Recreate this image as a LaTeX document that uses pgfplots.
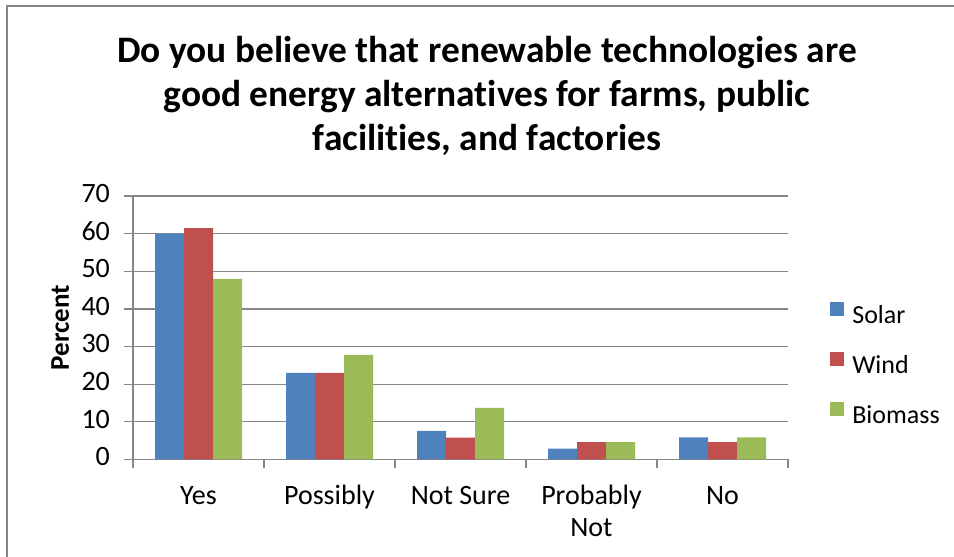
\documentclass[border=0pt]{standalone}
\usepackage{pgfplots}
\pgfplotsset{compat=1.18}
\usepackage{fontspec}
\setmainfont{Carlito}[Ligatures={NoCommon,NoContextual}]

\definecolor{solar}{HTML}{4F81BD}
\definecolor{wind}{HTML}{C0504D}
\definecolor{biomass}{HTML}{9BBB59}
\definecolor{axisgray}{HTML}{868686}

\begin{document}
\begin{tikzpicture}
\path[use as bounding box] (0pt,0pt) rectangle (477pt,278.5pt);

% chart frame (top and left edges)
\draw[axisgray, line width=1pt] (3.5pt,-5pt) -- (3.5pt,275.5pt) -- (485pt,275.5pt);

% title
\begin{scope}[every node/.style={anchor=base, inner sep=0pt,
    font=\fontsize{18.7}{22}\selectfont\bfseries}]
  \node at (243.5pt,247.4pt) {Do you believe that renewable technologies are};
  \node at (243.5pt,225.2pt) {good energy alternatives for farms, public};
  \node at (243.5pt,203.0pt) {facilities, and factories};
\end{scope}

\begin{axis}[
  at={(66.5pt,48.75pt)}, anchor=south west,
  scale only axis,
  width=327.5pt, height=131.75pt,
  ybar=0pt, bar width=14.5pt,
  xmin=-0.5, xmax=4.5,
  ymin=0, ymax=70,
  ytick={0,10,...,70},
  xtick={-0.5,0.5,1.5,2.5,3.5,4.5},
  x tick label as interval,
  xticklabels={Yes,Possibly,Not Sure,{Probably\\Not},No},
  typeset ticklabels with strut,
  xticklabel style={align=center, yshift=-3.25pt,
    font=\fontsize{14}{16}\selectfont},
  yticklabel style={xshift=-3.5pt, font=\fontsize{14}{16}\selectfont},
  /pgf/number format/assume math mode=true,
  tick align=outside,
  major tick length=4.5pt,
  tick style={axisgray, line width=0.6pt},
  axis x line*=bottom, axis y line*=left,
  axis line style={axisgray, line width=0.6pt, -},
  ymajorgrids,
  grid style={axisgray, line width=0.6pt},
  ylabel={Percent},
  ylabel style={at={(axis description cs:-0.111,0.5)}, anchor=center,
    font=\fontsize{13.5}{16}\selectfont\bfseries},
  legend style={at={(1.064,0.355)}, anchor=west, draw=none, fill=none,
    inner sep=0pt, row sep=11.5pt, column sep=4pt,
    nodes={inner sep=0pt, anchor=west, text height=9pt, text depth=3pt,
      font=\fontsize{13}{15}\selectfont}},
  legend cell align=left,
  legend image code/.code={\fill[#1] (0pt,0.5pt) rectangle (7pt,7.5pt);},
]
\addplot[fill=solar, draw=none] coordinates {(0,60) (1,23) (2,7.6) (3,2.9) (4,5.9)};
\addplot[fill=wind, draw=none] coordinates {(0,61.5) (1,23) (2,5.8) (3,4.6) (4,4.6)};
\addplot[fill=biomass, draw=none] coordinates {(0,48) (1,27.8) (2,13.7) (3,4.6) (4,5.9)};
\legend{Solar,Wind,Biomass}
\end{axis}
\end{tikzpicture}
\end{document}
